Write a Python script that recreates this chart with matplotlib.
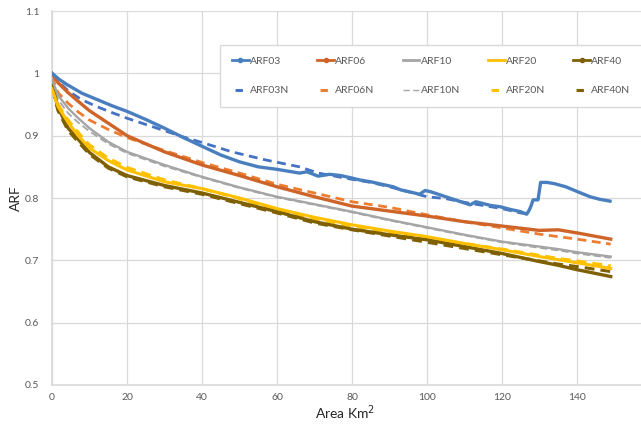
import matplotlib
matplotlib.use("Agg")
import matplotlib.pyplot as plt
from matplotlib.lines import Line2D
from matplotlib.ticker import FuncFormatter

plt.rcParams['font.family'] = ['Lato', 'DejaVu Sans']

# series (area km2 -> ARF)
x03 = [0, 2, 4, 8, 12, 16, 20, 25, 30, 35, 40, 45, 50, 55, 60, 63, 66, 68, 71, 74, 77,
       80, 82, 85, 88, 91, 93, 96, 98, 99.5, 101, 103.5, 106, 109, 111.5, 113, 115, 117,
       119.5, 122, 125, 126.6, 127.2, 127.6, 128.3, 129.6, 130.3, 132, 134, 137, 139,
       141, 143.5, 146, 148.8]
arf03 = [1.0, 0.99, 0.982, 0.968, 0.958, 0.948, 0.939, 0.926, 0.912, 0.897, 0.883, 0.869,
         0.858, 0.850, 0.846, 0.843, 0.840, 0.842, 0.835, 0.838, 0.836, 0.832, 0.829,
         0.826, 0.822, 0.818, 0.813, 0.809, 0.806, 0.812, 0.810, 0.805, 0.800, 0.794,
         0.789, 0.794, 0.791, 0.788, 0.786, 0.782, 0.778, 0.774, 0.780, 0.785, 0.797,
         0.797, 0.825, 0.825, 0.823, 0.818, 0.813, 0.808, 0.802, 0.798, 0.795]

x03n = [0, 2, 4.3, 7.8, 11.8, 16, 20, 25, 30, 35, 40, 48, 57, 66, 71, 80, 85, 90, 95,
        100, 105, 110, 115, 120, 125, 127]
arf03n = [1.0, 0.985, 0.972, 0.958, 0.947, 0.937, 0.928, 0.918, 0.908, 0.898, 0.889,
          0.874, 0.861, 0.850, 0.840, 0.830, 0.825, 0.818, 0.810, 0.802, 0.799, 0.793,
          0.788, 0.783, 0.776, 0.774]

xs = [0, 1.6, 4.3, 7, 10, 15, 20, 30, 40, 50, 60, 70, 80, 90, 100, 110, 120, 130, 135,
      140, 149]
arf06 = [1.0, 0.985, 0.969, 0.955, 0.94, 0.92, 0.90, 0.874, 0.853, 0.836, 0.818, 0.802,
         0.787, 0.779, 0.771, 0.762, 0.755, 0.748, 0.749, 0.744, 0.734]
arf06n = [0.995, 0.969, 0.952, 0.938, 0.925, 0.91, 0.897, 0.876, 0.857, 0.840, 0.822,
          0.808, 0.794, 0.785, 0.773, 0.762, 0.752, 0.742, 0.738, 0.734, 0.726]
arf10 = [0.99, 0.965, 0.944, 0.928, 0.912, 0.89, 0.874, 0.853, 0.834, 0.817, 0.802,
         0.790, 0.778, 0.765, 0.753, 0.741, 0.730, 0.722, 0.718, 0.713, 0.706]
arf10n = [0.985, 0.958, 0.936, 0.921, 0.907, 0.887, 0.872, 0.851, 0.833, 0.816, 0.801,
          0.789, 0.777, 0.764, 0.752, 0.740, 0.729, 0.720, 0.716, 0.711, 0.704]
arf20 = [0.975, 0.947, 0.921, 0.900, 0.880, 0.860, 0.845, 0.826, 0.815, 0.800, 0.783,
         0.769, 0.757, 0.747, 0.738, 0.727, 0.717, 0.706, 0.701, 0.696, 0.687]
arf20n = [0.975, 0.950, 0.925, 0.905, 0.885, 0.864, 0.849, 0.829, 0.815, 0.799, 0.781,
          0.767, 0.755, 0.745, 0.737, 0.727, 0.718, 0.708, 0.703, 0.699, 0.691]
arf40 = [0.982, 0.945, 0.912, 0.894, 0.873, 0.850, 0.836, 0.820, 0.808, 0.793, 0.778,
         0.762, 0.750, 0.741, 0.733, 0.722, 0.711, 0.698, 0.692, 0.685, 0.674]
arf40n = [0.975, 0.940, 0.908, 0.890, 0.870, 0.848, 0.834, 0.818, 0.806, 0.791, 0.776,
          0.760, 0.749, 0.739, 0.729, 0.719, 0.709, 0.699, 0.694, 0.690, 0.682]

C03, C03N = '#4A7FBF', '#4472C4'
C06, C06N = '#CF6428', '#ED7D31'
C10, C20, C40 = '#A5A5A5', '#FFC000', '#7F6000'
TXT = '#595959'
GRID = '#D9D9D9'

fig = plt.figure(figsize=(6.41, 4.30), dpi=100)
# plot area runs past the right edge, like the cropped original
ax = fig.add_axes([52 / 641, 45 / 430, 600 / 641, 374 / 430])

dash = (0, (3.2, 2.0))
ax.plot(xs, arf40n, color=C40, lw=2.2, ls=dash, zorder=2)
ax.plot(xs, arf20n, color=C20, lw=2.2, ls=dash, zorder=2)
ax.plot(xs, arf10n, color=C10, lw=1.3, ls=(0, (4, 2)), zorder=2)
ax.plot(xs, arf06n, color=C06N, lw=2.0, ls=dash, zorder=2)
ax.plot(x03n, arf03n, color=C03N, lw=2.0, ls=dash, zorder=2)

ax.plot(xs, arf40, color=C40, lw=2.4, zorder=3)
ax.plot(xs, arf20, color=C20, lw=2.2, zorder=3)
ax.plot(xs, arf10, color=C10, lw=1.7, zorder=3)
ax.plot(xs, arf06, color=C06, lw=2.4, zorder=3)
ax.plot(x03, arf03, color=C03, lw=2.4, zorder=4)

ax.set_xlim(0, 160)
ax.set_ylim(0.5, 1.1)
ax.set_xticks(range(0, 141, 20))
ax.set_yticks([0.5, 0.6, 0.7, 0.8, 0.9, 1.0, 1.1])
ax.yaxis.set_major_formatter(FuncFormatter(lambda v, p: f"{v:g}"))
ax.grid(True, color=GRID, lw=0.9)
ax.set_axisbelow(True)
for s in ['top', 'right']:
    ax.spines[s].set_visible(False)
for s in ['left', 'bottom']:
    ax.spines[s].set_color(GRID)
    ax.spines[s].set_linewidth(1.2)
ax.tick_params(axis='both', length=0, labelsize=7.5, labelcolor=TXT)
ax.tick_params(axis='y', pad=9)
ax.tick_params(axis='x', pad=6)

ax.set_ylabel('ARF', fontsize=10, color='#262626')
ax.yaxis.set_label_coords(-0.05, 0.5)
ax.set_xlabel('Area Km$^2$', fontsize=10, color='#262626')
ax.xaxis.set_label_coords(0.488, -0.05)

handles = [
    Line2D([], [], color=C03, lw=2, marker='o', ms=3),
    Line2D([], [], color=C03N, lw=2.2, ls=(0, (0.01, 1.0, 2.4, 30))),
    Line2D([], [], color=C06, lw=2, marker='o', ms=3),
    Line2D([], [], color=C06N, lw=2.2, ls=(0, (0.01, 1.0, 2.4, 30))),
    Line2D([], [], color=C10, lw=2),
    Line2D([], [], color=C10, lw=1.0, ls=(0, (4.5, 2.5))),
    Line2D([], [], color=C20, lw=2),
    Line2D([], [], color=C20, lw=2.2, ls=(0, (0.01, 1.0, 2.4, 30))),
    Line2D([], [], color=C40, lw=2, marker='o', ms=3),
    Line2D([], [], color=C40, lw=2.2, ls=(0, (0.01, 1.0, 2.4, 30))),
]
labels = ['ARF03', 'ARF03N', 'ARF06', 'ARF06N', 'ARF10', 'ARF10N',
          'ARF20', 'ARF20N', 'ARF40', 'ARF40N']
leg = ax.legend(handles, labels, ncol=5, loc='upper left',
                bbox_to_anchor=(0.272, 0.762, 0.72, 0.16), mode='expand',
                fontsize=7.5, handlelength=1.6, handletextpad=0.15,
                labelspacing=1.9, borderpad=1.1, fancybox=False,
                edgecolor=GRID, framealpha=1)
leg.get_frame().set_linewidth(1.0)
for t in leg.get_texts():
    t.set_color(TXT)

fig.savefig('out.png', dpi=100)
